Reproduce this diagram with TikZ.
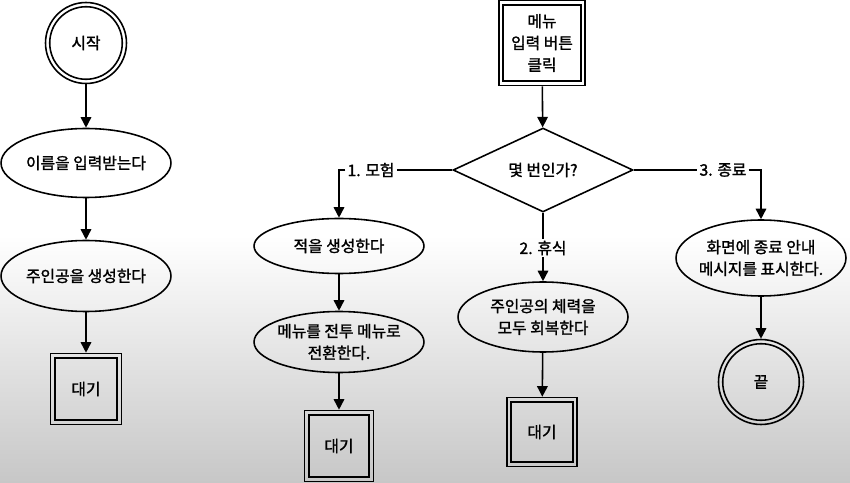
\documentclass[tikz,border=0pt]{standalone}
\usepackage{fontspec}
\setmainfont{Noto Sans CJK KR}[FakeBold=1.5]
\usetikzlibrary{shapes.geometric}
\usetikzlibrary{arrows.meta}
\tikzset{every node/.style={font=\fontsize{9}{12.4}\selectfont,align=center}}
\tikzset{proc/.style={ellipse,draw,line width=0.9pt,minimum width=3.4cm,inner xsep=-6pt,inner ysep=0pt}}
\tikzset{dbox/.style={rectangle,draw,line width=0.9pt,inner sep=0pt,path picture={\draw[line width=0.9pt] ([shift={(2.4pt,-2.4pt)}]path picture bounding box.north west) rectangle ([shift={(-2.4pt,2.4pt)}]path picture bounding box.south east);}}}
\tikzset{dcirc/.style={circle,draw,line width=0.9pt,inner sep=0pt,minimum size=#1,path picture={\draw[line width=0.9pt] (path picture bounding box.center) circle (#1/2-2.4pt);}}}
\tikzset{choice/.style={diamond,draw,line width=0.9pt,minimum width=3.6cm,minimum height=1.68cm,inner sep=0pt}}
\tikzset{arr/.style={-{Triangle[length=6pt,width=6pt]},line width=0.9pt}}
\tikzset{lbl/.style={inner sep=1pt}}

\begin{document}
\begin{tikzpicture}[x=0.02cm,y=-0.02cm]
  \useasboundingbox (0,0) rectangle (850,483);
  \fill[white] (0,0) rectangle (850,236);
  \shade[top color=white,bottom color=black!22] (0,235) rectangle (850,483);

  \node[dcirc=1.62cm] at (86,43) (start) {시작};
  \node[proc,minimum height=1.38cm] at (86,163) (name) {이름을 입력받는다};
  \node[proc,minimum height=1.42cm] at (86,276) (hero) {주인공을 생성한다};
  \node[dbox,minimum width=1.42cm,minimum height=1.42cm] at (86,389) (wait1) {대기};

  \node[dbox,minimum width=1.72cm,minimum height=1.7cm] at (542,43) (menu) {메뉴\\입력 버튼\\클릭};
  \node[choice] at (543,170) (q) {몇 번인가?};

  \node[proc,minimum height=1.1cm] at (339,246) (foe) {적을 생성한다};
  \node[proc,minimum height=1.22cm] at (339,342) (battle) {메뉴를 전투 메뉴로\\전환한다.};
  \node[dbox,minimum width=1.38cm,minimum height=1.42cm] at (339,446) (wait2) {대기};

  \node[proc,minimum height=1.4cm] at (543,317) (rest) {주인공의 체력을\\모두 회복한다};
  \node[dbox,minimum width=1.4cm,minimum height=1.38cm] at (542,432) (wait3) {대기};

  \node[proc,minimum height=1.52cm] at (761,258) (quit) {화면에 종료 안내\\메시지를 표시한다.};
  \node[dcirc=1.7cm] at (761,382) (end) {끝};

  \node[lbl] at (371,170) (adv) {1. 모험};
  \node[lbl] at (543,248) (sleep) {2. 휴식};
  \node[lbl] at (723,170) (exit) {3. 종료};

  \draw[arr] (start) -- (name);
  \draw[arr] (name) -- (hero);
  \draw[arr] (hero) -- (wait1);
  \draw[arr] (menu) -- (q);
  \draw[line width=0.9pt] (q.west) -- (adv);
  \draw[arr] (adv) -- (adv -| foe.north) -- (foe.north);
  \draw[line width=0.9pt] (q.south) -- (sleep);
  \draw[arr] (sleep) -- (rest.north);
  \draw[line width=0.9pt] (q.east) -- (exit);
  \draw[arr] (exit) -- (exit -| quit.north) -- (quit.north);
  \draw[arr] (foe) -- (battle);
  \draw[arr] (battle) -- (wait2);
  \draw[arr] (rest) -- (wait3);
  \draw[arr] (quit) -- (end);
\end{tikzpicture}
\end{document}
